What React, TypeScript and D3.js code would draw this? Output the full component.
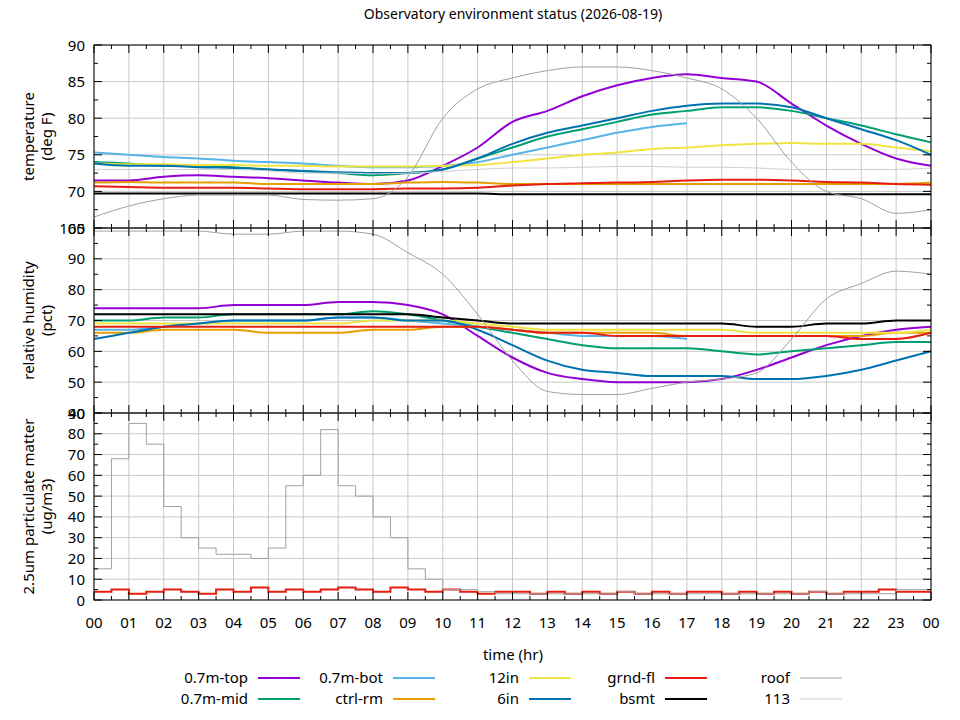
import React from "react";
import * as d3 from "d3";

const hours = d3.range(0, 25);
const xTickLabels = hours.map(h => String(h % 24).padStart(2, "0"));

const names = ["0.7m-top", "0.7m-mid", "0.7m-bot", "ctrl-rm", "12in", "6in", "grnd-fl", "bsmt", "roof", "113"];
const colors = ["#9400d3", "#009e73", "#56b4e9", "#e69f00", "#f0e442", "#0072b2", "#e51e10", "#000000", "#a0a0a0", "#d0d0d0"];
const widths = [2, 2, 2, 2, 2, 2, 2, 2, 1, 1];

const tTop = [71.5,71.5,72,72.2,72,71.8,71.5,71.2,71,71.5,73.5,76,79.5,81,83,84.5,85.5,86,85.5,85,82,79,76.5,74.5,73.5];
const tMid = [74,73.8,73.5,73.5,73.3,73,72.8,72.5,72.2,72.5,73,74.5,76,77.5,78.5,79.5,80.5,81,81.5,81.5,81,80,79,77.8,76.7];
const tBot = [75.3,75,74.7,74.5,74.2,74,73.8,73.5,73.3,73.3,73.5,74,75,76,77,78,78.8,79.3];
const tCtrl = [71.2,71.3,71.2,71.2,71.2,71,71,71,71,71.2,71.3,71.2,71,71,71,71,71,71,71,71,71,71,71,71,71.2];
const t12 = [73.8,73.7,73.7,73.6,73.6,73.5,73.5,73.4,73.4,73.4,73.5,73.6,74,74.5,75,75.3,75.8,76,76.3,76.5,76.6,76.5,76.5,76,75.5];
const t6 = [73.8,73.5,73.5,73.3,73.2,73,72.8,72.6,72.5,72.5,73,74.5,76.5,78,79,80,81,81.7,82,82,81.5,80,78.5,77,75];
const tGrnd = [70.7,70.6,70.5,70.5,70.5,70.4,70.3,70.3,70.3,70.4,70.4,70.5,70.8,71,71.1,71.2,71.3,71.5,71.6,71.6,71.5,71.3,71.2,71,70.9];
const tBsmt = [69.7,69.7,69.7,69.7,69.7,69.7,69.7,69.7,69.7,69.7,69.7,69.7,69.6,69.6,69.6,69.6,69.6,69.6,69.6,69.6,69.6,69.6,69.6,69.6,69.6];
const tRoof = [66.5,68,69,69.5,69.5,69.5,68.9,68.8,69,72,80,84,85.5,86.5,87,87,86.5,85.5,84,80,74,70,69,67,67.5];
const t113 = [73,73,73,73,73,72.8,72.5,72.5,72.4,72.5,72.7,73,73.2,73.2,73.3,73.4,73.4,73.3,73.3,73.2,73,73,73,73,73.2];

const hTop = [74,74,74,74,75,75,75,76,76,75,72,65,58,53,51,50,50,50,51,54,58,62,65,67,68];
const hMid = [70,70,71,71,72,72,72,72,73,72,70,68,66,64,62,61,61,61,60,59,60,61,62,63,63];
const hBot = [67,67,68,69,70,70,70,71,71,70,69,68,67,66,65,65,65,64];
const hCtrl = [66,66,67,67,67,66,66,66,67,67,68,68,67,66,66,66,66,65,65,65,65,65,65,66,66];
const h12 = [69,69,69,69,69,69,69,69,70,70,70,69,68,67,67,67,67,67,67,66,66,66,66,66,67];
const h6 = [64,66,68,69,70,70,70,71,71,70,70,67,62,57,54,53,52,52,52,51,51,52,54,57,60];
const hGrnd = [68,68,68,68,68,68,68,68,68,68,68,68,67,66,66,65,65,65,65,65,65,65,64,64,66];
const hBsmt = [72,72,72,72,72,72,72,72,72,72,71,70,69,69,69,69,69,69,69,68,68,69,69,70,70];
const hRoof = [99,99,99,99,98,98,99,99,98,92,85,72,57,47,46,46,48,50,51,53,64,77,82,86,85];

const pmHours = d3.range(0, 24.5, 0.5);
const pmRoof = [15,68,85,75,45,30,25,22,22,20,25,55,60,82,55,50,40,30,15,10,5,5,4,3,3,3,3,3,3,3,4,3,3,3,3,3,3,3,3,3,3,4,3,3,3,3,5,5,5];
const pmGrnd = [4,5,3,4,5,4,3,5,4,6,4,5,4,5,6,5,4,6,5,4,5,4,3,4,4,3,4,3,4,3,4,3,4,3,4,4,3,4,3,4,3,4,3,4,4,5,4,4,4];

const left = 94, right = 931;
const panels = [
  { top: 45, bottom: 228, domain: [65, 90], ticks: d3.range(65, 91, 5), minor: 2.5, label: ["temperature", "(deg F)"],
    series: [tTop, tMid, tBot, tCtrl, t12, t6, tGrnd, tBsmt, tRoof, t113], xs: hours, step: false },
  { top: 228, bottom: 413, domain: [40, 100], ticks: d3.range(40, 101, 10), minor: 5, label: ["relative humidity", "(pct)"],
    series: [hTop, hMid, hBot, hCtrl, h12, h6, hGrnd, hBsmt, hRoof, null], xs: hours, step: false },
  { top: 413, bottom: 600, domain: [0, 90], ticks: d3.range(0, 91, 10), minor: 5, label: ["2.5um particulate matter", "(ug/m3)"],
    series: [null, null, null, null, null, null, pmGrnd, null, pmRoof, null], xs: pmHours, step: true },
];

const x = d3.scaleLinear().domain([0, 24]).range([left, right]);
const font = "Noto Sans, DejaVu Sans, sans-serif";

export default function App() {
  const legendCols = [248, 383, 519, 655, 790];
  return (
    <svg width={960} height={720} style={{ display: "block", position: "absolute", left: 0, top: 0 }} fontFamily={font}>
      <rect width={960} height={720} fill="#fff" />
      <text x={513} y={19} textAnchor="middle" fontSize={14}>Observatory environment status (2026-08-19)</text>
      {panels.map((p, pi) => {
        const y = d3.scaleLinear().domain(p.domain).range([p.bottom, p.top]);
        const line = d3.line<number>().x((_, i) => x(p.xs[i])).y(v => y(v))
          .curve(p.step ? d3.curveStepAfter : d3.curveMonotoneX);
        const minors = d3.range(p.domain[0], p.domain[1] + 0.01, p.minor);
        return (
          <g key={pi}>
            {hours.map(h => <line key={h} x1={x(h)} x2={x(h)} y1={p.top} y2={p.bottom} stroke="#c8c8c8" />)}
            {p.ticks.map(t => <line key={t} x1={left} x2={right} y1={y(t)} y2={y(t)} stroke="#c8c8c8" />)}
            {p.series.map((s, si) => s && (
              <path key={si} d={line(s) || ""} fill="none" stroke={colors[si]} strokeWidth={widths[si]} />
            ))}
            <rect x={left} y={p.top} width={right - left} height={p.bottom - p.top} fill="none" stroke="#000" />
            {minors.map(t => {
              const major = p.ticks.includes(t);
              const len = major ? 8 : 4;
              return <g key={t}>
                <line x1={left} x2={left + len} y1={y(t)} y2={y(t)} stroke="#000" />
                <line x1={right} x2={right - len} y1={y(t)} y2={y(t)} stroke="#000" />
              </g>;
            })}
            {d3.range(0, 24.01, 0.5).map(h => {
              const len = Number.isInteger(h) ? 8 : 4;
              return <g key={h}>
                <line x1={x(h)} x2={x(h)} y1={p.bottom} y2={p.bottom - len} stroke="#000" />
                <line x1={x(h)} x2={x(h)} y1={p.top} y2={p.top + len} stroke="#000" />
              </g>;
            })}
            {p.ticks.map(t => <text key={t} x={left - 9} y={y(t) + 5.5} textAnchor="end" fontSize={15}>{t}</text>)}
            <text transform={`translate(37,${(p.top + p.bottom) / 2}) rotate(-90)`} textAnchor="middle" fontSize={15}>
              <tspan x={0} dy={-3}>{p.label[0]}</tspan>
              <tspan x={0} dy={18}>{p.label[1]}</tspan>
            </text>
          </g>
        );
      })}
      {hours.map(h => <text key={h} x={x(h)} y={628} textAnchor="middle" fontSize={15}>{xTickLabels[h]}</text>)}
      <text x={513} y={660} textAnchor="middle" fontSize={15}>time (hr)</text>
      {names.map((n, i) => {
        const col = Math.floor(i / 2), row = i % 2;
        const lx = legendCols[col];
        const ly = 678 + row * 21;
        return <g key={n}>
          <text x={lx} y={ly + 5} textAnchor="end" fontSize={15}>{n}</text>
          <line x1={lx + 10} x2={lx + 52} y1={ly} y2={ly} stroke={colors[i]} strokeWidth={widths[i]} />
        </g>;
      })}
    </svg>
  );
}
